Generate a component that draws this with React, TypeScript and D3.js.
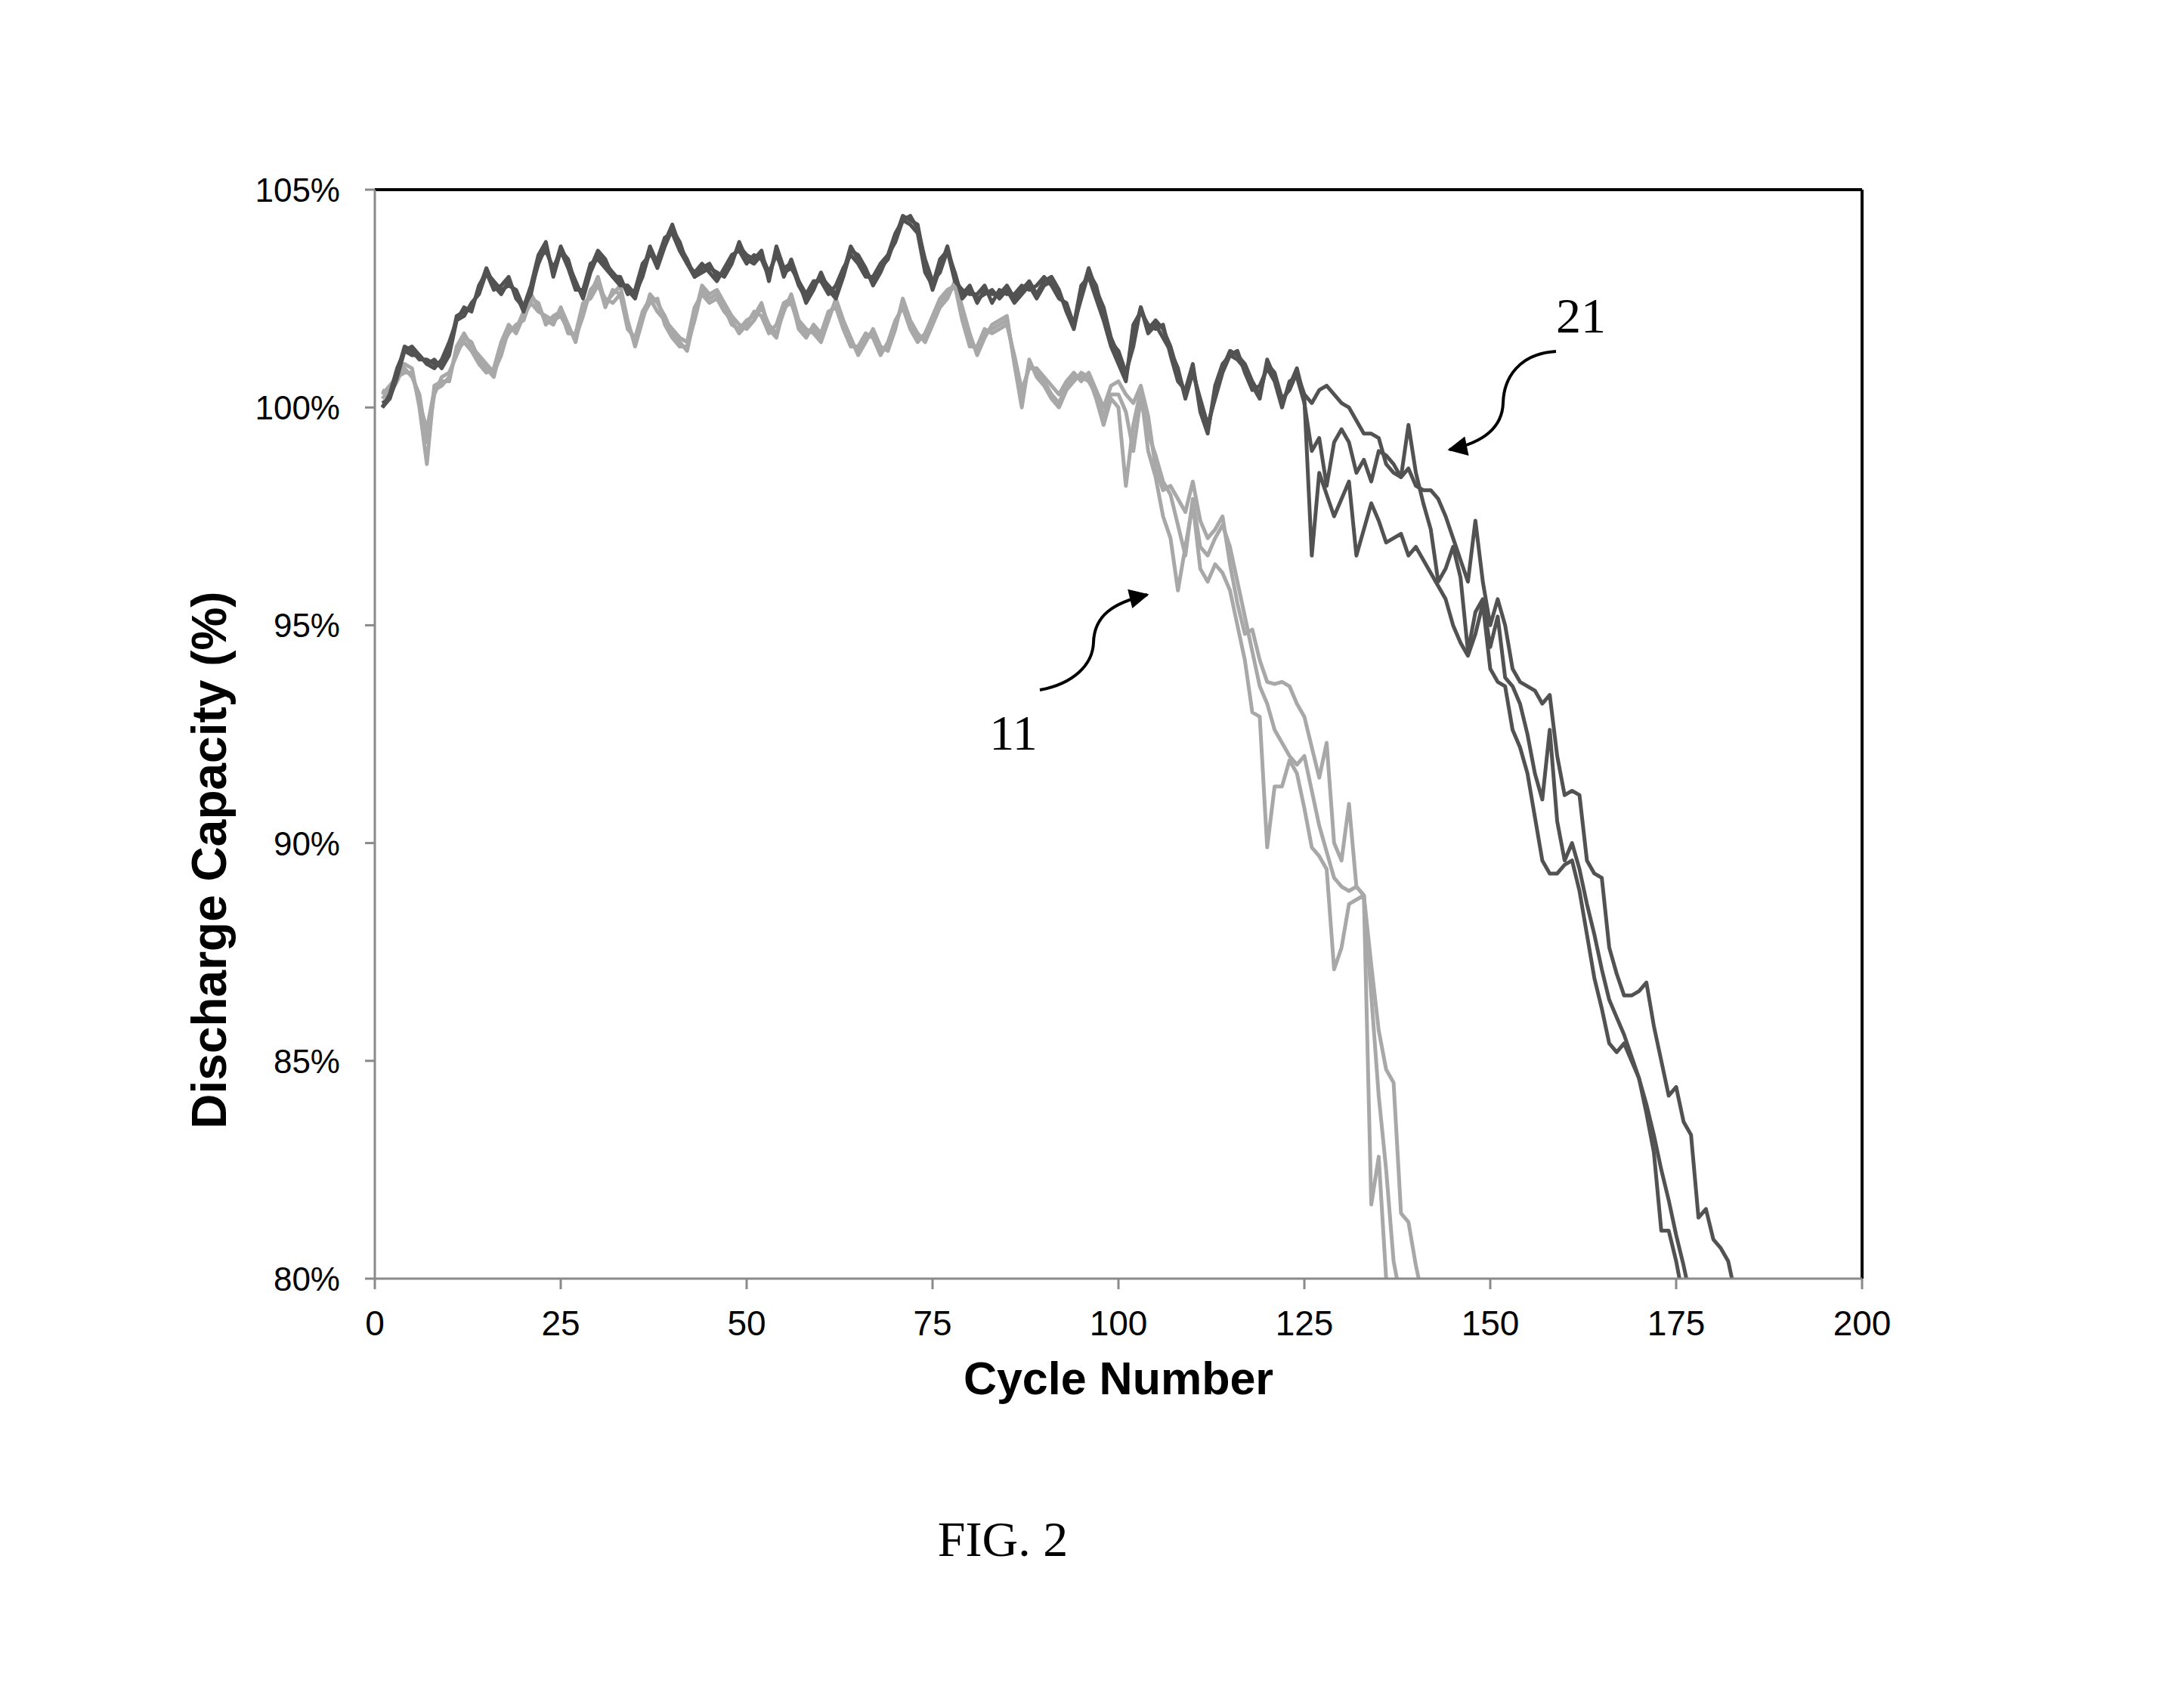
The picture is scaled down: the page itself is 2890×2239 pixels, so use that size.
import React from "react";
import * as d3 from "d3";

// ---- Data (discharge capacity %, one value per cycle starting at cycle 1) ----
const seriesA = [
  100.0, 100.2, 100.8, 101.4, 101.3, 101.1, 101.1, 101.0, 101.0, 101.3,
  102.1, 102.2, 102.3, 102.7, 103.2, 102.8, 102.6, 102.9, 102.6, 102.2,
  102.7, 103.3, 103.7, 103.1, 103.7, 103.3, 102.9, 102.5, 103.1, 103.5,
  103.3, 103.1, 102.9, 102.7, 102.5, 103.1, 103.7, 103.3, 103.8, 104.2,
  103.7, 103.4, 103.0, 103.2, 103.3, 103.0, 103.1, 103.4, 103.7, 103.5,
  103.4, 103.6, 102.9, 103.7, 103.2, 103.3, 102.8, 102.5, 102.8, 103.0,
  102.8, 102.6, 103.1, 103.7, 103.4, 103.1, 102.9, 103.2, 103.4, 103.9,
  104.4, 104.3, 104.2, 103.3, 102.7, 103.2, 103.7, 103.0, 102.6, 102.8,
  102.4, 102.7, 102.6, 102.6, 102.8, 102.5, 102.7, 102.9, 102.6, 102.9,
  103.0, 102.7, 102.2, 101.8, 102.6, 103.2, 102.7, 102.3, 101.6, 101.2,
  100.7, 101.6, 102.3, 101.8, 102.0, 101.8, 101.4, 100.8, 100.3, 100.9,
  100.1, 99.5, 100.3, 100.9, 101.3, 101.2, 101.0, 100.6, 100.3, 101.0,
  100.8, 100.2, 100.4, 100.8, 100.3, 100.1, 100.4, 100.5, 100.3, 100.1,
  100.0, 99.7, 99.4, 99.4, 99.3, 98.7, 98.5, 98.4, 98.6, 98.2,
  98.1, 98.1, 97.9, 97.5, 97.0, 96.5, 96.0, 97.4, 96.0, 95.0,
  95.6, 95.0, 94.0, 93.7, 93.6, 93.5, 93.2, 93.4, 92.0, 91.1,
  91.2, 91.1, 89.6, 89.3, 89.2, 87.6, 87.0, 86.5, 86.5, 86.6,
  86.8, 85.8, 85.0, 84.2, 84.4, 83.6, 83.3, 81.4, 81.6, 80.9,
  80.7, 80.4, 79.6,
];

const seriesB = [
  100.0, 100.3, 100.9, 101.3, 101.2, 101.2, 101.0, 100.9, 101.1, 101.5,
  102.0, 102.3, 102.2, 102.8, 103.1, 102.7, 102.8, 103.0, 102.5, 102.3,
  102.8, 103.5, 103.8, 103.0, 103.6, 103.2, 102.7, 102.7, 103.3, 103.4,
  103.2, 103.0, 103.0, 102.6, 102.7, 103.3, 103.5, 103.4, 103.9, 104.0,
  103.6, 103.3, 103.1, 103.3, 103.1, 102.9, 103.2, 103.5, 103.6, 103.3,
  103.5, 103.4, 103.0, 103.6, 103.0, 103.4, 102.9, 102.6, 102.9, 102.9,
  102.6, 102.8, 103.2, 103.5, 103.3, 103.0, 103.0, 103.3, 103.5, 104.0,
  104.3, 104.2, 104.0, 103.1, 102.8, 103.4, 103.6, 102.9, 102.7, 102.6,
  102.6, 102.8, 102.4, 102.7, 102.6, 102.6, 102.8, 102.7, 102.8, 103.0,
  102.8, 102.5, 102.4, 101.9, 102.8, 103.0, 102.5, 102.0, 101.4, 101.0,
  100.6, 101.9, 102.2, 101.9, 101.8, 101.9, 101.2, 100.6, 100.4, 101.0,
  99.9, 99.4, 100.5, 101.0, 101.2, 101.3, 100.8, 100.4, 100.5, 100.9,
  100.6, 100.0, 100.6, 100.7, 100.1, 99.0, 99.3, 98.2, 99.2, 99.5,
  99.2, 98.5, 98.8, 98.3, 99.0, 98.9, 98.7, 98.4, 99.6, 98.5,
  97.8, 97.2, 96.0, 96.3, 96.8, 96.1, 94.4, 95.3, 95.6, 94.5,
  95.2, 93.8, 93.6, 93.2, 92.5, 91.6, 91.0, 92.6, 90.5, 89.6,
  90.0, 89.4, 88.6, 87.9, 87.1, 86.4, 86.0, 85.6, 85.1, 84.6,
  84.0, 83.3, 82.5, 81.8, 81.0, 80.3, 79.5,
];

const seriesC = [
  100.1, 100.2, 100.7, 101.3, 101.4, 101.2, 101.0, 101.1, 100.9, 101.2,
  102.0, 102.1, 102.4, 102.6, 103.1, 102.9, 102.7, 102.8, 102.7, 102.3,
  102.6, 103.4, 103.6, 103.2, 103.6, 103.4, 102.8, 102.6, 103.2, 103.6,
  103.4, 103.0, 102.8, 102.8, 102.6, 103.0, 103.6, 103.2, 103.7, 104.1,
  103.8, 103.3, 103.0, 103.1, 103.2, 103.1, 103.0, 103.3, 103.8, 103.4,
  103.3, 103.5, 103.1, 103.5, 103.1, 103.2, 102.9, 102.4, 102.7, 103.1,
  102.7, 102.5, 103.0, 103.6, 103.5, 103.2, 102.8, 103.1, 103.5, 103.8,
  104.3, 104.4, 104.1, 103.4, 102.9, 103.1, 103.6, 103.1, 102.5, 102.7,
  102.5, 102.6, 102.7, 102.5, 102.7, 102.4, 102.6, 102.8, 102.5, 102.8,
  102.9, 102.6, 102.3, 101.9, 102.5, 103.1, 102.8, 102.1, 101.5, 101.3,
  100.8, 101.4, 102.3, 101.7, 101.9, 101.6, 101.3, 100.9, 100.2, 100.8,
  100.2, 99.6, 100.2, 100.8, 101.2, 101.1, 100.9, 100.5, 100.2, 101.1,
  100.7, 100.1, 100.5, 100.9, 100.2, 96.6, 98.5, 98.0, 97.5, 97.9,
  98.3, 96.6, 97.2, 97.8, 97.4, 96.9, 97.0, 97.1, 96.6, 96.8,
  96.5, 96.2, 95.9, 95.6, 95.0, 94.6, 94.3, 94.8, 95.5, 94.0,
  93.7, 93.6, 92.6, 92.2, 91.6, 90.6, 89.6, 89.3, 89.3, 89.5,
  89.6, 88.9, 87.9, 86.9, 86.2, 85.4, 85.2, 85.4, 85.0, 84.6,
  83.8, 82.9, 81.1, 81.1, 80.4, 79.5,
];

const seriesD = [
  100.4, 100.3, 100.6, 101.0, 100.9, 100.0, 98.7, 100.5, 100.6, 100.6,
  101.4, 101.7, 101.4, 101.2, 101.0, 100.8, 101.2, 101.8, 101.8, 102.2,
  102.6, 102.3, 102.0, 101.9, 102.3, 101.9, 101.5, 102.3, 102.6, 103.0,
  102.4, 102.6, 102.8, 102.0, 101.4, 102.0, 102.6, 102.4, 102.1, 101.7,
  101.5, 101.3, 102.1, 102.8, 102.6, 102.7, 102.4, 102.1, 101.9, 101.8,
  102.0, 102.3, 101.9, 101.7, 102.2, 102.6, 102.0, 101.8, 101.7, 101.5,
  102.0, 102.5, 102.0, 101.6, 101.2, 101.5, 101.8, 101.4, 101.3, 101.8,
  102.5, 102.0, 101.7, 101.5, 101.9, 102.3, 102.5, 102.9, 102.3, 101.7,
  101.2, 101.6, 101.9, 102.0, 102.1, 101.0, 100.0, 101.1, 100.7, 100.5,
  100.2, 100.0, 100.4, 100.6, 100.8, 100.7, 100.2, 99.6, 100.2, 100.0,
  98.2, 99.6, 100.4, 99.0, 98.4, 97.5, 97.0, 95.8, 96.8, 97.8,
  96.3, 96.0, 96.4, 96.2, 95.8, 95.0, 94.2, 93.0, 92.9, 89.9,
  91.3, 91.3, 91.9, 91.6, 90.8, 89.9, 89.7, 89.4, 87.1, 87.6,
  88.6, 88.7, 88.8, 81.7, 82.8, 80.0, 79.4,
];

const seriesE = [
  100.2, 100.4, 100.8, 100.9, 100.7, 100.3, 99.2, 100.3, 100.7, 100.8,
  101.2, 101.6, 101.5, 101.1, 100.9, 100.7, 101.4, 101.7, 101.9, 102.0,
  102.5, 102.4, 101.9, 102.1, 102.2, 101.7, 101.7, 102.4, 102.5, 102.8,
  102.5, 102.4, 102.6, 101.8, 101.6, 102.2, 102.5, 102.2, 102.0, 101.8,
  101.6, 101.5, 102.3, 102.6, 102.4, 102.5, 102.2, 102.0, 101.7, 101.9,
  102.2, 102.1, 101.7, 101.9, 102.4, 102.5, 101.8, 101.6, 101.9, 101.7,
  102.2, 102.3, 101.8, 101.4, 101.4, 101.7, 101.6, 101.2, 101.5, 102.0,
  102.3, 101.8, 101.5, 101.7, 102.1, 102.5, 102.7, 102.8, 102.0, 101.4,
  101.4, 101.8, 101.7, 101.8, 101.9, 101.2, 100.4, 100.9, 100.9, 100.7,
  100.5, 100.3, 100.6, 100.8, 100.6, 100.8, 100.4, 100.0, 100.5, 100.6,
  100.3, 100.1, 100.5, 99.8, 98.6, 98.1, 98.2, 97.9, 97.6, 98.3,
  97.4, 97.0, 97.2, 97.5, 96.4, 95.5, 94.8, 94.9, 94.2, 93.7,
  93.65, 93.7, 93.6, 93.2, 92.9, 92.2, 91.5, 92.3, 90.0, 89.6,
  90.9, 89.0, 88.8, 87.2, 85.7, 84.8, 84.5, 81.5, 81.3, 80.3,
  79.5,
];

const seriesF = [
  100.3, 100.5, 100.7, 100.8, 100.8, 100.1, 99.5, 100.4, 100.5, 100.7,
  101.3, 101.5, 101.3, 101.0, 100.8, 100.9, 101.5, 101.9, 101.7, 102.1,
  102.4, 102.2, 102.1, 102.0, 102.1, 101.8, 101.6, 102.1, 102.7, 102.9,
  102.3, 102.7, 102.6, 101.9, 101.5, 102.1, 102.4, 102.5, 101.9, 101.6,
  101.4, 101.4, 102.0, 102.7, 102.5, 102.6, 102.3, 101.9, 101.8, 102.0,
  102.1, 102.4, 101.8, 101.6, 102.3, 102.4, 101.9, 101.7, 101.8, 101.6,
  102.1, 102.4, 101.9, 101.5, 101.3, 101.6, 101.7, 101.3, 101.4, 101.9,
  102.4, 101.9, 101.6, 101.6, 102.0, 102.4, 102.6, 102.8, 102.2, 101.5,
  101.3, 101.7, 101.8, 101.9, 102.0, 101.1, 100.2, 101.0, 100.8, 100.6,
  100.3, 100.1, 100.5, 100.7, 100.7, 100.6, 100.3, 99.8, 100.3, 100.3,
  99.9, 99.0, 100.2, 99.4, 98.9, 98.3, 98.0, 97.3, 96.6, 97.9,
  96.8, 96.6, 97.0, 97.3, 96.8, 96.0, 95.2, 94.4, 93.6, 93.2,
  92.6, 92.3, 92.0, 91.8, 92.0, 91.2, 90.4, 89.8, 89.2, 89.0,
  88.9, 89.0, 88.8, 86.5, 84.2, 82.5, 80.4, 79.5,
];

const lightSeries = [seriesD, seriesE, seriesF]; // group "11"
const darkSeries = [seriesA, seriesB, seriesC]; // group "21"

const xTicks = [0, 25, 50, 75, 100, 125, 150, 175, 200];
const yTicks = [80, 85, 90, 95, 100, 105];
const yTickLabels = ["80%", "85%", "90%", "95%", "100%", "105%"];

const W = 2890;
const H = 2239;
const left = 496;
const right = 2464;
const top = 251;
const bottom = 1692;

const sans = "'Liberation Sans', Arial, Helvetica, sans-serif";
const serif = "'Liberation Serif', 'Times New Roman', Times, serif";

export default function App() {
  const x = d3.scaleLinear().domain([0, 200]).range([left, right]);
  const y = d3.scaleLinear().domain([80, 105]).range([bottom, top]);

  const line = d3
    .line<number>()
    .x((_, i) => x(i + 1))
    .y((d) => y(d));

  return (
    <svg
      width={W}
      height={H}
      viewBox={`0 0 ${W} ${H}`}
      style={{ position: "absolute", left: 0, top: 0, background: "#fff", display: "block" }}
    >
      <defs>
        <clipPath id="plotClip">
          <rect x={left} y={top} width={right - left} height={bottom - top} />
        </clipPath>
        <marker
          id="arrowHead"
          viewBox="0 0 10 10"
          refX="9"
          refY="5"
          markerUnits="userSpaceOnUse"
          markerWidth="30"
          markerHeight="26"
          orient="auto"
        >
          <path d="M0,0 L10,5 L0,10 z" fill="#000" />
        </marker>
      </defs>
      <rect x={0} y={0} width={W} height={H} fill="#fff" />

      {/* data lines */}
      <g clipPath="url(#plotClip)" fill="none" strokeLinejoin="round">
        {lightSeries.map((s, i) => (
          <path key={"l" + i} d={line(s) || ""} stroke="#a8a8a8" strokeWidth={5} />
        ))}
        {darkSeries.map((s, i) => (
          <path key={"d" + i} d={line(s) || ""} stroke="#525252" strokeWidth={5} />
        ))}
      </g>

      {/* frame */}
      <line x1={left} y1={top} x2={right} y2={top} stroke="#000" strokeWidth={4} />
      <line x1={right} y1={top} x2={right} y2={bottom} stroke="#000" strokeWidth={4} />
      <line x1={left} y1={top} x2={left} y2={bottom} stroke="#8a8a8a" strokeWidth={3} />
      <line x1={left} y1={bottom} x2={right} y2={bottom} stroke="#8a8a8a" strokeWidth={3} />

      {/* y axis */}
      {yTicks.map((t, i) => (
        <g key={"y" + t}>
          <line x1={left - 13} x2={left} y1={y(t)} y2={y(t)} stroke="#8a8a8a" strokeWidth={3} />
          <text
            x={450}
            y={y(t) + 16}
            textAnchor="end"
            fontFamily={sans}
            fontSize={44}
            fill="#000"
          >
            {yTickLabels[i]}
          </text>
        </g>
      ))}

      {/* x axis */}
      {xTicks.map((t) => (
        <g key={"x" + t}>
          <line x1={x(t)} x2={x(t)} y1={bottom} y2={bottom + 14} stroke="#8a8a8a" strokeWidth={3} />
          <text x={x(t)} y={1767} textAnchor="middle" fontFamily={sans} fontSize={46} fill="#000">
            {t}
          </text>
        </g>
      ))}

      {/* axis titles */}
      <text
        x={(left + right) / 2}
        y={1845}
        textAnchor="middle"
        fontFamily={sans}
        fontWeight="bold"
        fontSize={61}
        fill="#000"
      >
        Cycle Number
      </text>
      <text
        transform={`translate(299, 1138) rotate(-90)`}
        textAnchor="middle"
        fontFamily={sans}
        fontWeight="bold"
        fontSize={64}
        fill="#000"
      >
        Discharge Capacity (%)
      </text>

      {/* annotations */}
      <text x={2092} y={440} textAnchor="middle" fontFamily={serif} fontSize={66} fill="#000">
        21
      </text>
      <path
        d="M 2059 465 C 2010 468, 1990 500, 1989 533 C 1988 566, 1962 586, 1918 595"
        fill="none"
        stroke="#000"
        strokeWidth={4}
        markerEnd="url(#arrowHead)"
      />
      <text x={1341} y={992} textAnchor="middle" fontFamily={serif} fontSize={66} fill="#000">
        11
      </text>
      <path
        d="M 1376 913 C 1420 905, 1446 880, 1447 850 C 1448 815, 1472 798, 1518 787"
        fill="none"
        stroke="#000"
        strokeWidth={4}
        markerEnd="url(#arrowHead)"
      />

      {/* figure caption */}
      <text x={1327} y={2059} textAnchor="middle" fontFamily={serif} fontSize={66} fill="#000">
        FIG. 2
      </text>
    </svg>
  );
}
